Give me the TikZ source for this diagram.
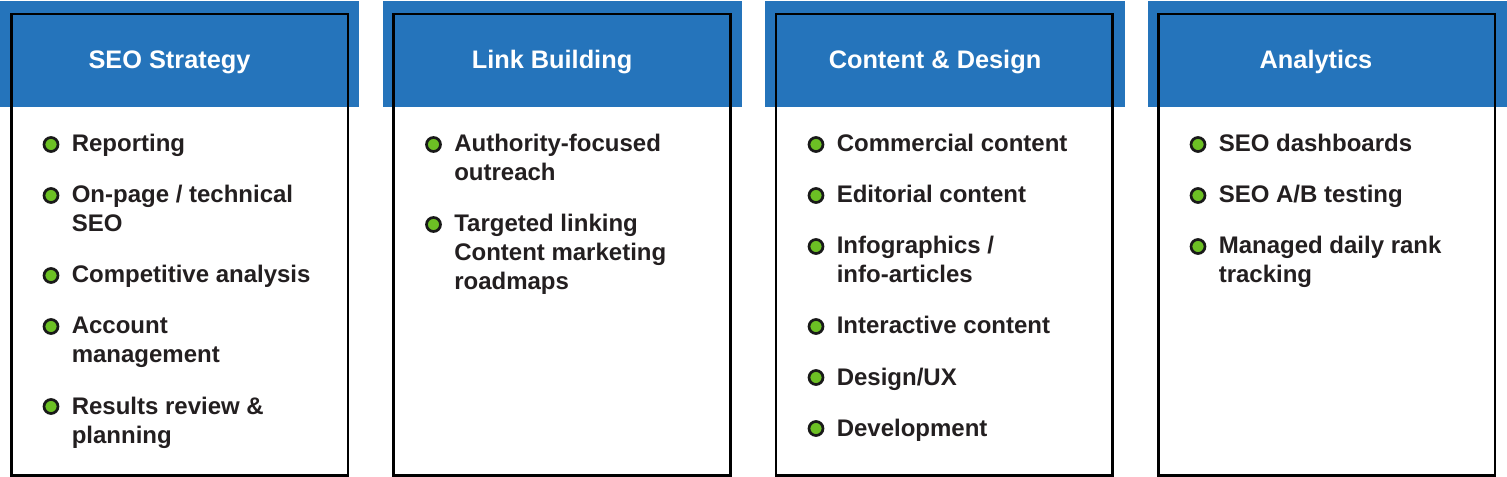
\documentclass[tikz,border=0pt]{standalone}
\usepackage{fontspec}
\setmainfont{Liberation Sans}
\usepackage{xcolor}

\definecolor{seoblue}{RGB}{37,116,187}
\definecolor{dotgreen}{RGB}{108,192,36}
\definecolor{textdark}{RGB}{35,31,32}
\newcommand{\headfont}{\fontsize{19pt}{23pt}\selectfont\bfseries}
\newcommand{\itemfont}{\fontsize{18pt}{21.75pt}\selectfont\bfseries}

\begin{document}
\begin{tikzpicture}[x=0.75pt,y=-0.75pt,
        head/.style={fill=seoblue},
        frame/.style={draw=black,line width=2pt},
        title/.style={anchor=base,inner sep=0pt,text=white,font=\headfont},
        dot/.style={circle,draw=black!90,fill=dotgreen,line width=2pt,inner sep=0pt,minimum size=10.5pt},
        item/.style={anchor=base west,inner sep=0pt,align=left,text=textdark,font=\itemfont}]
                \useasboundingbox (0,0) rectangle (1507,477);

                % blue headers
                \fill[head] (0,1) rectangle (359.3,107.3);
                \fill[head] (382.6,1) rectangle (741.9,107.3);
                \fill[head] (765.2,1) rectangle (1124.5,107.3);
                \fill[head] (1147.8,1) rectangle (1507,107.3);

                % outlined boxes
                \draw[frame] (11.3,14) rectangle (348,475.5);
                \draw[frame] (393.6,14) rectangle (730.3,475.5);
                \draw[frame] (775.9,14) rectangle (1112.6,475.5);
                \draw[frame] (1158.2,14) rectangle (1494.9,475.5);

                % titles
                \node[title] (strategy) at (169.5,69) {SEO Strategy};
                \node[title] (links) at (552,69) {Link Building};
                \node[title] (content) at (935,69) {Content \& Design};
                \node[title] (analytics) at (1316,69) {Analytics};

                % SEO Strategy (item nodes sit on the baseline of their last line)
                \node[dot] (s1dot) at (51,144.5) {};
                \node[item] (s1) at (71.5,152) {Reporting};
                \node[dot] (s2dot) at (51,195.5) {};
                \node[item] (s2) at (71.5,232) {On-page / technical\\SEO};
                \node[dot] (s3dot) at (51,275.5) {};
                \node[item] (s3) at (71.5,283) {Competitive analysis};
                \node[dot] (s4dot) at (51,326.5) {};
                \node[item] (s4) at (71.5,363) {Account\\management};
                \node[dot] (s5dot) at (51,406.5) {};
                \node[item] (s5) at (71.5,443) {Results review \&\\planning};

                % Link Building
                \node[dot] (l1dot) at (433.5,144.5) {};
                \node[item] (l1) at (454,181) {Authority-focused\\outreach};
                \node[dot] (l2dot) at (433.5,224.5) {};
                \node[item] (l2) at (454,290) {Targeted linking\\Content marketing\\roadmaps};

                % Content & Design
                \node[dot] (c1dot) at (816,144.5) {};
                \node[item] (c1) at (836.5,152) {Commercial content};
                \node[dot] (c2dot) at (816,195.5) {};
                \node[item] (c2) at (836.5,203) {Editorial content};
                \node[dot] (c3dot) at (816,246.5) {};
                \node[item] (c3) at (836.5,283) {Infographics /\\info-articles};
                \node[dot] (c4dot) at (816,326.5) {};
                \node[item] (c4) at (836.5,334) {Interactive content};
                \node[dot] (c5dot) at (816,377.5) {};
                \node[item] (c5) at (836.5,385) {Design/UX};
                \node[dot] (c6dot) at (816,428.5) {};
                \node[item] (c6) at (836.5,436) {Development};

                % Analytics
                \node[dot] (a1dot) at (1198,144.5) {};
                \node[item] (a1) at (1218.5,152) {SEO dashboards};
                \node[dot] (a2dot) at (1198,195.5) {};
                \node[item] (a2) at (1218.5,203) {SEO A/B testing};
                \node[dot] (a3dot) at (1198,246.5) {};
                \node[item] (a3) at (1218.5,283) {Managed daily rank\\tracking};

            \end{tikzpicture}
\end{document}
